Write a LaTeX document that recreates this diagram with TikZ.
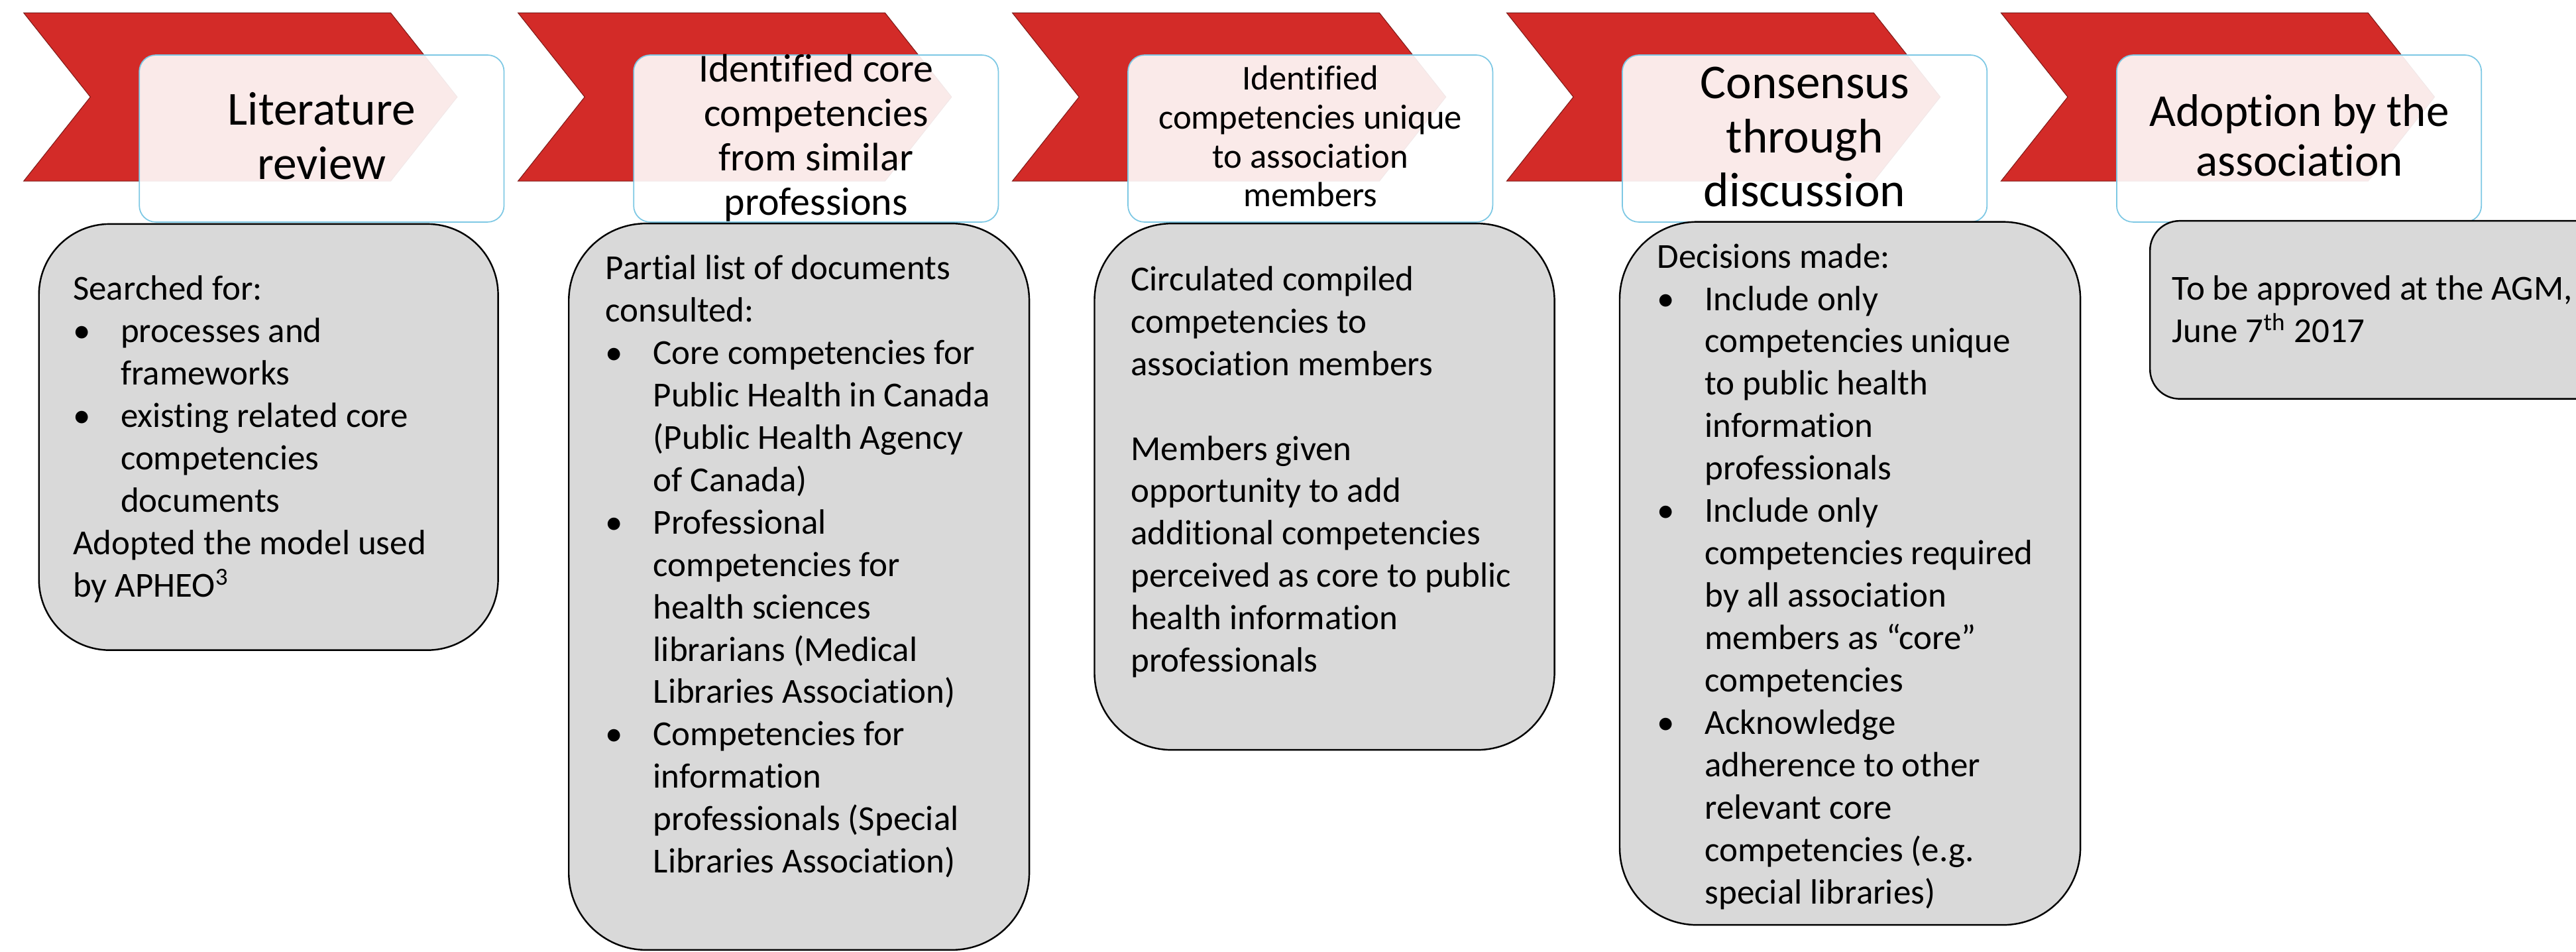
\documentclass[tikz,border=0pt]{standalone}
\usepackage{fontspec}
\setmainfont{Carlito}[Ligatures={NoCommon}]

\definecolor{arrowred}{RGB}{211,43,40}
\definecolor{edgeblue}{RGB}{125,200,228}
\definecolor{boxgray}{RGB}{217,217,217}

\newcommand{\bul}{\makebox[20.6pt][l]{\textbullet}}
\newcommand{\ind}{\hspace*{20.6pt}}

\begin{document}
\begin{tikzpicture}[x=0.025cm, y=-0.025cm,
    chevron/.style={fill=arrowred, draw=arrowred!60!black, line width=0.3pt},
    headbox/.style={fill=white, fill opacity=0.9, draw=edgeblue, line width=0.5pt, rounded corners=7.1pt},
    bodybox/.style={fill=boxgray, draw=black, line width=0.7pt},
    headtext/.style={anchor=base, inner sep=0pt},
    bodytext/.style={anchor=base west, inner sep=0pt}]

    \useasboundingbox (0,0) rectangle (1568,579);
    \clip (0,0) rectangle (1568,579);

    % red chevrons
    \foreach \i in {0,...,4}{
        \pgfmathsetmacro{\cx}{14.4+300.9*\i}
        \draw[chevron] (\cx,7.8) -- ++(223.4,0) -- ++(40.5,51.2) -- ++(-40.5,51.2)
            -- ++(-223.4,0) -- ++(40.6,-51.2) -- cycle;
    }

    % header boxes over the chevrons
    \foreach \i in {0,...,4}{
        \pgfmathsetmacro{\bx}{84.8+300.9*\i}
        \draw[headbox] (\bx,33.5) rectangle ++(222,101.6);
    }

    % grey boxes
    \draw[bodybox, rounded corners=30.6pt] (23.7,136.3) rectangle (303.2,395.6);
    \draw[bodybox, rounded corners=33.4pt] (346.2,136) rectangle (626.5,578);
    \draw[bodybox, rounded corners=33.4pt] (666.2,136) rectangle (946.2,456.3);
    \draw[bodybox, rounded corners=33.4pt] (985.9,135) rectangle (1266.3,562.8);
    \draw[bodybox, rounded corners=12.8pt] (1308.7,134.4) rectangle (1590,242.7);

    % step titles
    \node[headtext] (lit) at (195.8,76) {\parbox[t]{200pt}{\centering
        \fontsize{20.5}{23.6}\selectfont Literature\\review}};
    \node[headtext] (core) at (496.7,50) {\parbox[t]{200pt}{\centering
        \fontsize{17.2}{19.2}\selectfont Identified core\\competencies\\from similar\\professions}};
    \node[headtext] (uniq) at (797.6,54.7) {\parbox[t]{200pt}{\centering
        \fontsize{15.1}{16.86}\selectfont Identified\\competencies unique\\to association\\members}};
    \node[headtext] (cons) at (1098.5,59.8) {\parbox[t]{200pt}{\centering
        \fontsize{21}{23.47}\selectfont Consensus\\through\\discussion}};
    \node[headtext] (adopt) at (1399.6,77) {\parbox[t]{200pt}{\centering
        \fontsize{19.8}{21.34}\selectfont Adoption by the\\association}};

    % step details
    \node[bodytext] (litbody) at (44.2,182.7) {\parbox[t]{230pt}{\raggedright
        \fontsize{15.2}{18.34}\selectfont
        Searched for:\\
        \bul processes and\\
        \ind frameworks\\
        \bul existing related core\\
        \ind competencies\\
        \ind documents\\
        Adopted the model used\\
        by APHEO\textsuperscript{3}}};

    \node[bodytext] (corebody) at (368.4,170.1) {\parbox[t]{230pt}{\raggedright
        \fontsize{15.2}{18.34}\selectfont
        Partial list of documents\\
        consulted:\\
        \bul Core competencies for\\
        \ind Public Health in Canada\\
        \ind (Public Health Agency\\
        \ind of Canada)\\
        \bul Professional\\
        \ind competencies for\\
        \ind health sciences\\
        \ind librarians (Medical\\
        \ind Libraries Association)\\
        \bul Competencies for\\
        \ind information\\
        \ind professionals (Special\\
        \ind Libraries Association)}};

    \node[bodytext] (uniqbody) at (688.1,176.8) {\parbox[t]{230pt}{\raggedright
        \fontsize{15.2}{18.34}\selectfont
        Circulated compiled\\
        competencies to\\
        association members\\[18.34pt]
        Members given\\
        opportunity to add\\
        additional competencies\\
        perceived as core to public\\
        health information\\
        professionals}};

    \node[bodytext] (consbody) at (1008.5,163) {\parbox[t]{230pt}{\raggedright
        \fontsize{15.2}{18.34}\selectfont
        Decisions made:\\
        \bul Include only\\
        \ind competencies unique\\
        \ind to public health\\
        \ind information\\
        \ind professionals\\
        \bul Include only\\
        \ind competencies required\\
        \ind by all association\\
        \ind members as “core”\\
        \ind competencies\\
        \bul Acknowledge\\
        \ind adherence to other\\
        \ind relevant core\\
        \ind competencies (e.g.\\
        \ind special libraries)}};

    \node[bodytext] (adoptbody) at (1322,182.5) {\parbox[t]{230pt}{\raggedright
        \fontsize{15.2}{18.34}\selectfont
        To be approved at the AGM,\\
        June 7\textsuperscript{th} 2017}};
\end{tikzpicture}
\end{document}
